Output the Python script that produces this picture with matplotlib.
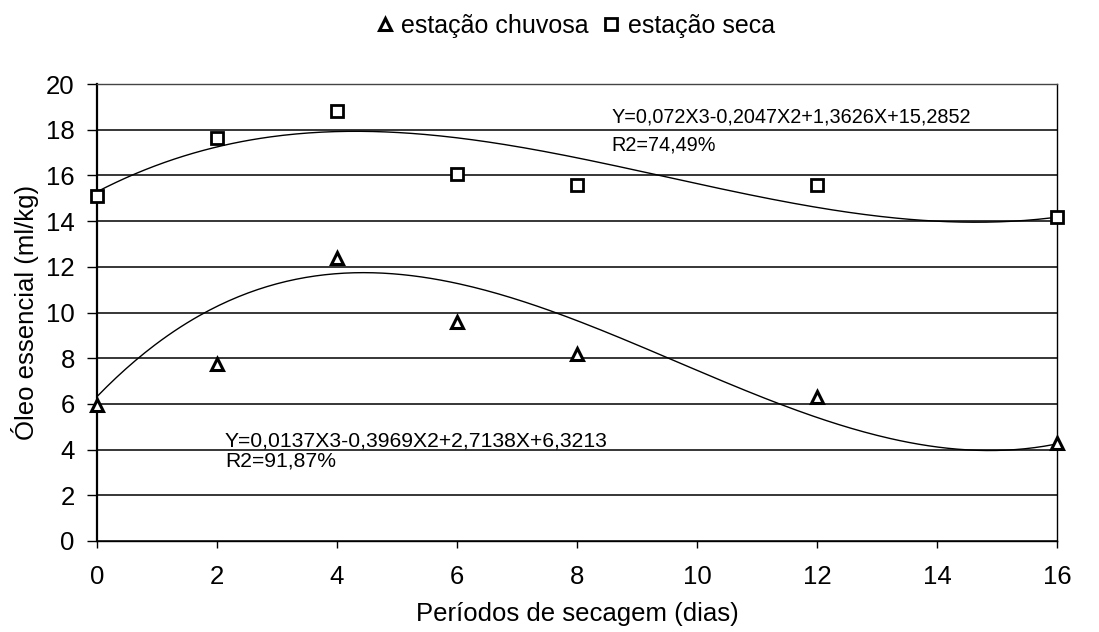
import numpy as np
import matplotlib.pyplot as plt

# dias de secagem
dias = [0, 2, 4, 6, 8, 12, 16]
chuvosa = [5.95, 7.75, 12.4, 9.6, 8.2, 6.3, 4.3]
seca = [15.1, 17.65, 18.8, 16.05, 15.6, 15.6, 14.2]

# coeficientes das linhas de tendência (grau 3, do maior para o menor)
coef_chuvosa = [0.0137, -0.3969, 2.7138, 6.3213]
coef_seca = [0.0072, -0.2047, 1.3626, 15.2852]   # rótulo mostra 0,072 mas a curva usa 0,0072

eq_chuvosa = ["Y=0,0137X3-0,3969X2+2,7138X+6,3213", "R2=91,87%"]
eq_seca = ["Y=0,072X3-0,2047X2+1,3626X+15,2852", "R2=74,49%"]

xticks = [0, 2, 4, 6, 8, 10, 12, 14, 16]
yticks = [0, 2, 4, 6, 8, 10, 12, 14, 16, 18, 20]

plt.rcParams.update({
    "font.family": ["Liberation Sans", "DejaVu Sans"],
    "font.size": 18,
})

fig = plt.figure(figsize=(10.99, 6.32), dpi=100)
ax = fig.add_axes([0.0883, 0.144, 0.8735, 0.723])

xs = np.linspace(0, 16, 300)
for coef in (coef_chuvosa, coef_seca):
    ax.plot(xs, np.polyval(coef, xs), c='k', lw=1.0, zorder=2)

ax.plot(dias, chuvosa, ls='none', marker='^', ms=9, mfc='white', mec='k', mew=2.2,
        label='estação chuvosa', zorder=3, clip_on=False)
ax.plot(dias, seca, ls='none', marker='s', ms=8.5, mfc='white', mec='k', mew=2.0,
        label='estação seca', zorder=3, clip_on=False)

ax.text(2.13, 4.36, eq_chuvosa[0], fontsize=15.2, va='center')
ax.text(2.13, 3.52, eq_chuvosa[1], fontsize=15.2, va='center')
ax.text(8.58, 18.55, eq_seca[0], fontsize=14.3, va='center')
ax.text(8.58, 17.33, eq_seca[1], fontsize=14.3, va='center')

ax.set(xlim=(0, 16), ylim=(0, 20))
ax.set_xticks(xticks)
ax.set_yticks(yticks)
ax.yaxis.grid(True, color='k', lw=1.1)
ax.set_axisbelow(True)
ax.tick_params(axis='x', direction='out', length=5, width=1.0, pad=12, labelsize=18.5)
ax.tick_params(axis='y', direction='out', length=7, width=1.0, pad=9, labelsize=18.5)
for s in ax.spines.values():
    s.set_linewidth(1.0)
ax.spines['left'].set_linewidth(1.6)
ax.spines['top'].set_color('#444444')

ax.set_xlabel('Períodos de secagem (dias)', fontsize=18.5, labelpad=10)
ax.set_ylabel('Óleo essencial (ml/kg)', fontsize=18.5, labelpad=5)

ax.legend(loc='center', bbox_to_anchor=(0.499, 1.127), ncol=2, frameon=False,
          handlelength=0.6, handletextpad=0.35, columnspacing=0.6,
          fontsize=18, markerscale=1.0)

plt.savefig("out.png")
